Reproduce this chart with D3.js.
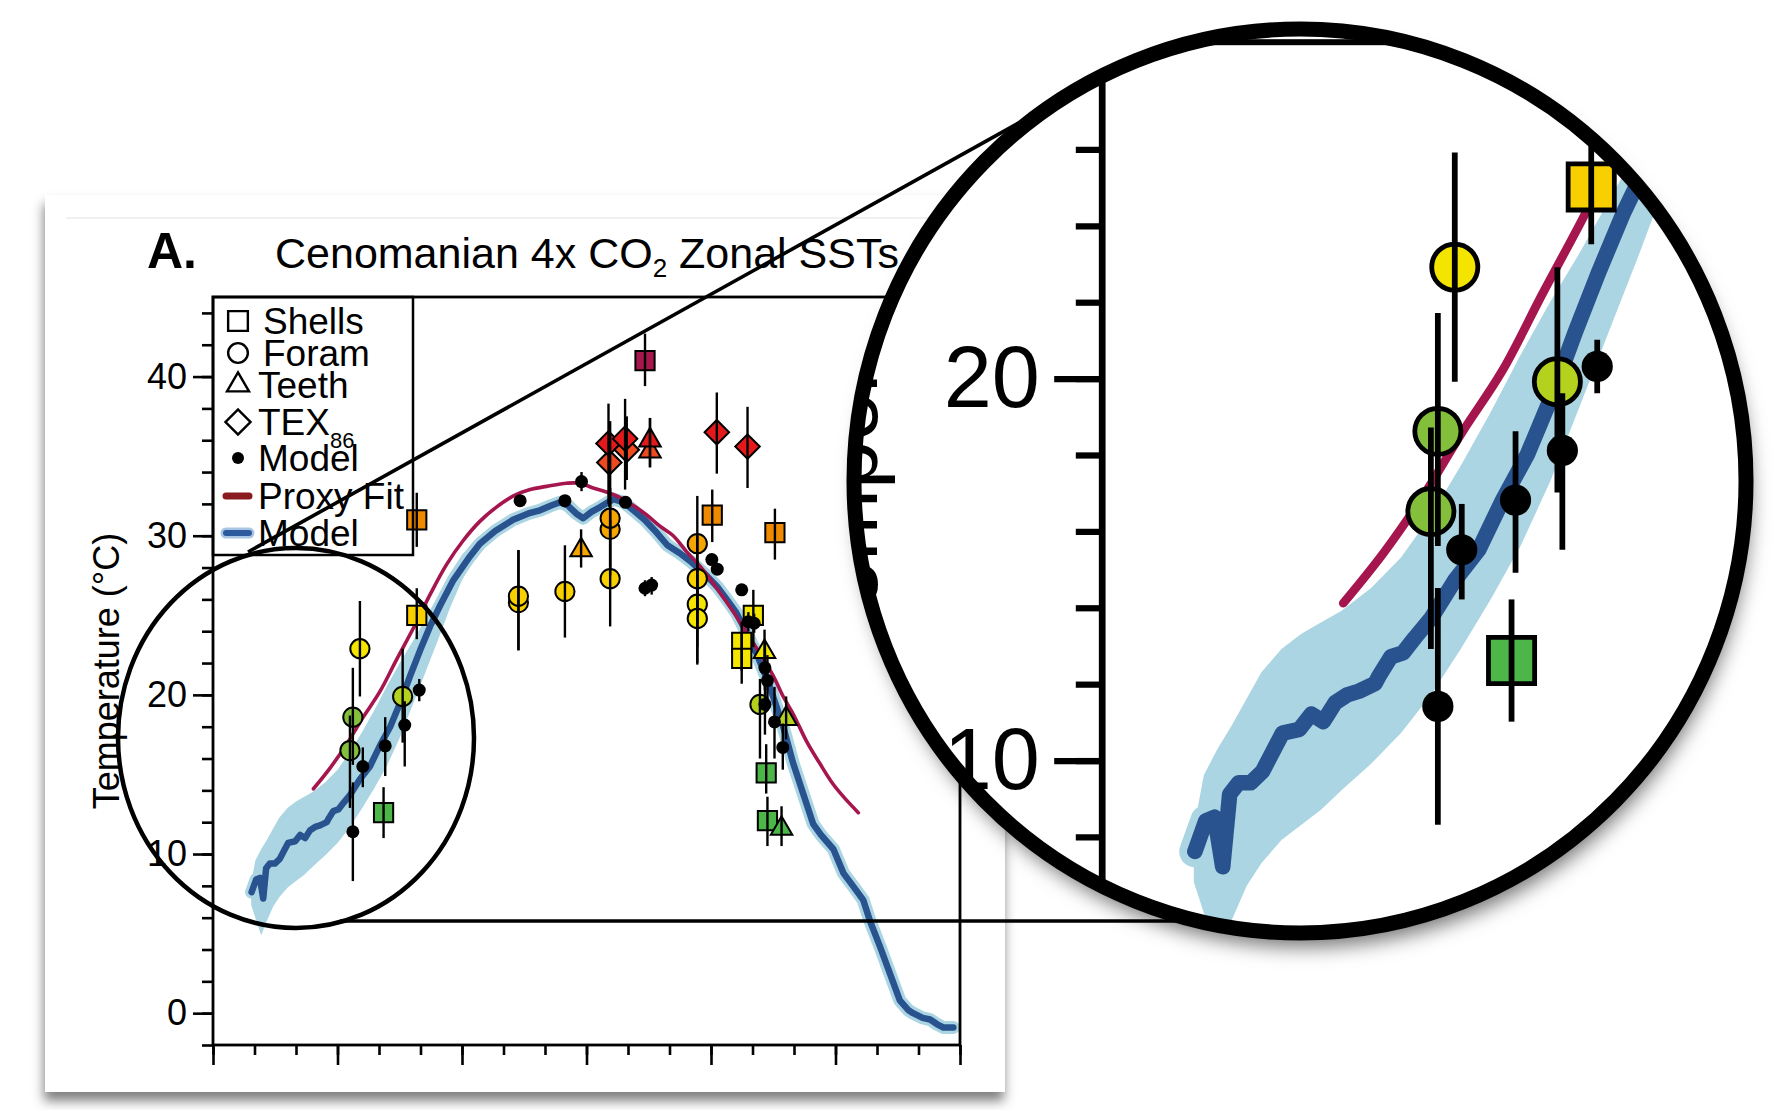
<!DOCTYPE html>
<html>
<head>
<meta charset="utf-8">
<script src="https://cdn.jsdelivr.net/npm/d3@7"></script>
<style>
  body { margin: 0; background: #fff; }
  svg { display: block; font-family: "Liberation Sans", Arial, Helvetica, sans-serif; }
</style>
</head>
<body>
<div class="container"></div>
<script>
const width = 1773;
const height = 1110;

// model zonal mean SST (blue line)
const modelLat = [-80.7, -79.6, -78.7, -77.9, -77.2, -76.3, -75.1, -73.9, -72.7, -71.9,
  -70.2, -69.0, -67.8, -66.6, -65.4, -64.2, -62.6, -62.2, -61.0, -59.8,
  -58.6, -57.0, -54.6, -52.2, -49.8, -47.3, -44.9, -42.5, -40.1, -37.7,
  -35.3, -32.1, -28.1, -25.7, -22.0, -17.7, -14.0, -11.2, -8.5, -6.4,
  -4.5, -2.5, -0.8, 1.2, 3.3, 6.5, 9.0, 11.3, 14.0, 16.9,
  19.5, 22.5, 25.0, 28.9, 31.5, 33.8, 36.0, 37.8, 41.0, 44.2,
  47.4, 49.8, 52.2, 54.6, 56.5, 59.5, 61.9, 64.2, 66.7, 68.3,
  70.7, 73.1, 75.5, 77.5, 78.7, 81.0, 82.8, 84.5, 86.0, 88.4];
const modelSST = [7.6, 8.4, 8.5, 7.2, 9.1, 9.4, 9.4, 9.7, 10.3, 10.7,
  10.8, 11.2, 11.0, 11.5, 11.7, 11.8, 12.0, 12.2, 12.7, 12.8,
  13.2, 13.7, 14.7, 15.5, 16.8, 18.0, 19.5, 21.2, 22.8, 24.3,
  25.6, 27.2, 28.7, 29.5, 30.3, 31.0, 31.4, 31.6, 31.9, 32.1,
  31.9, 31.4, 31.1, 31.5, 31.8, 32.3, 32.1, 31.6, 31.0, 30.2,
  29.4, 28.9, 28.4, 27.5, 26.8, 26.0, 25.2, 24.3, 22.6, 20.5,
  18.0, 15.7, 13.8, 11.9, 11.2, 10.3, 8.8, 8.0, 7.1, 5.8,
  4.2, 2.5, 0.8, 0.2, 0.0, -0.3, -0.4, -0.7, -0.9, -0.9];

// model spread (light blue band, wide in the south)
const bandLat = [-80.8, -79.8, -78.4, -77.0, -75.5, -74, -72, -70, -68, -66, -63, -60,
  -57, -54, -51, -48, -45, -42, -39, -36, -33, -30, -27];
const bandLo = [6.8, 6.0, 4.9, 5.8, 6.7, 7.3, 7.9, 8.3, 8.7, 9.2, 9.9, 10.7,
  11.7, 12.9, 14.2, 15.6, 17.3, 19.3, 21.3, 23.3, 25.4, 27.2, 28.6];
const bandHi = [8.2, 9.6, 10.3, 10.9, 11.6, 12.3, 12.9, 13.3, 13.6, 13.9, 14.5, 15.3,
  16.4, 17.7, 19.1, 20.6, 22.0, 23.3, 24.7, 26.1, 27.6, 28.8, 29.7];

// proxy fit (red line)
const fitLat = [-65.8, -61.8, -57.8, -53.8, -49.8, -45.8, -41.7, -37.7, -33.7, -29.7,
  -25.7, -21.7, -17.6, -13.6, -9.6, -4.8, -1.6, 1.6, 4.8, 8.1,
  11.3, 14.5, 17.7, 20.9, 24.1, 27.3, 32.2, 35.4, 38.6, 41.8,
  45.0, 47.4, 49.8, 53.0, 56.2, 59.4, 62.6, 65.5];
const fitSST = [14.1, 15.4, 16.9, 18.6, 20.2, 22.2, 24.2, 26.3, 28.2, 29.7,
  30.9, 31.8, 32.5, 32.9, 33.1, 33.3, 33.3, 33.0, 32.75, 32.4,
  31.9, 31.3, 30.6, 30.0, 29.0, 28.1, 26.4, 25.2, 23.9, 22.6,
  21.2, 19.9, 18.8, 17.1, 15.7, 14.4, 13.4, 12.6];

// proxies: s = shells, f = foram, t = teeth, x = TEX86
const proxyType = ['f', 'f', 'f', 's', 'f', 's', 's', 'f', 'f', 'f',
  't', 'f', 'f', 'f', 'x', 'x', 'x', 'x', 't', 't',
  's', 'x', 'x', 's', 's', 'f', 'f', 'f', 'f', 's',
  's', 's', 't', 'f', 't', 's', 's', 't'];
const proxyLat = [-54.6, -56.3, -57.0, -48.9, -44.3, -40.9, -40.9, -16.4, -16.4, -5.2,
  -1.3, 5.7, 5.7, 5.7, 5.5, 5.3, 9.7, 9.3, 15.3, 15.3,
  14.1, 31.4, 38.8, 30.3, 45.4, 26.7, 26.7, 26.7, 26.7, 40.2,
  37.4, 37.4, 42.9, 41.8, 48.1, 43.3, 43.6, 47.0];
const proxySST = [22.9, 18.6, 16.5, 12.6, 19.9, 25.0, 31.0, 25.8, 26.2, 26.5,
  29.1, 27.3, 30.4, 31.1, 34.6, 35.8, 35.4, 36.1, 35.3, 36.0,
  41.0, 36.5, 35.6, 31.3, 30.2, 29.5, 27.3, 25.7, 24.8, 25.0,
  23.3, 22.3, 22.7, 19.4, 18.5, 15.1, 12.1, 11.6];
const proxyLo = [19.9, 15.6, 12.9, 11.0, 17.0, 23.5, 29.3, 22.8, 22.8, 23.6,
  28.0, 24.3, 27.5, 28.0, 31.8, 32.0, 33.5, 32.9, 34.3, 34.3,
  39.4, 33.9, 33.0, 29.6, 28.5, 21.9, 24.5, 23.0, 22.0, 23.0,
  21.5, 20.7, 21.4, 16.0, 17.2, 13.8, 10.5, 10.5];
const proxyHi = [25.9, 21.7, 18.7, 14.2, 22.9, 26.7, 32.7, 29.1, 29.1, 29.4,
  30.4, 31.0, 33.0, 37.2, 37.0, 38.3, 37.5, 38.6, 37.4, 37.4,
  42.7, 39.0, 38.1, 32.9, 31.7, 32.5, 30.0, 28.4, 27.5, 26.6,
  24.6, 23.9, 24.1, 21.0, 19.9, 16.9, 13.6, 13.0];
const proxyGroup = ['yellow', 'green', 'green', 'dkgreen', 'lime', 'gold', 'orange', 'gold', 'gold', 'gold',
  'amber', 'gold', 'amber', 'amber', 'redorange', 'red', 'redorange', 'red', 'redorange', 'red',
  'crimson', 'red', 'red', 'orange', 'orange', 'amber', 'gold', 'yellow', 'yellow', 'yellow',
  'yellow', 'yellow', 'yellow', 'lime', 'lime', 'dkgreen', 'dkgreen', 'dkgreen'];

// model values at proxy sites (black dots)
const dotLat = [-56.3, -53.9, -48.5, -43.8, -40.3, -16.0, -5.2, -1.2, 9.4, 14.1,
  15.7, 30.2, 31.5, 37.4, 39.0, 40.4, 43.0, 43.6, 43.0, 45.3, 47.3];
const dotSST = [11.4, 15.5, 16.8, 18.1, 20.3, 32.2, 32.2, 33.4, 32.1, 26.7,
  26.9, 28.5, 27.9, 26.6, 24.6, 24.5, 21.7, 20.9, 19.4, 18.3, 16.7];
const dotLo = [8.3, 14.2, 14.9, 15.5, 19.6, 32.2, 32.2, 32.8, 32.1, 26.2,
  26.3, 28.5, 27.9, 26.6, 24.0, 23.9, 20.3, 19.0, 17.5, 16.0, 15.3];
const dotHi = [14.5, 16.7, 18.6, 19.6, 21.0, 32.2, 32.2, 34.0, 32.1, 27.2,
  27.4, 28.5, 27.9, 26.6, 25.2, 25.1, 23.3, 22.5, 20.8, 20.5, 18.2];

const yMajor = [0, 10, 20, 30, 40];
const legendNames = ['Shells', 'Foram', 'Teeth', 'TEX', 'Model', 'Proxy Fit', 'Model'];

// colours of the proxy groups
const groupColor = d3.scaleOrdinal()
  .domain(['yellow', 'gold', 'amber', 'orange', 'redorange', 'red', 'crimson', 'lime', 'green', 'dkgreen'])
  .range(['#f4e500', '#f8d000', '#f5a400', '#ef8a00', '#ee4a1f', '#e3191c', '#a5174d', '#b3d11d', '#84bf3b', '#4cb748']);

const bandColor = '#abd5e2';
const blue = '#29538f';
const crimson = '#a6164e';

const x = d3.scaleLinear().domain([-90, 90]).range([213, 960]);
const y = d3.scaleLinear().domain([-2, 45]).range([1045, 297]);

const shapeOf = { s: d3.symbolSquare, f: d3.symbolCircle, t: d3.symbolTriangle, x: d3.symbolSquare };
const sizeOf = { s: 370, f: 290, t: 200, x: 300 };

const svg = d3.select('.container')
  .append('svg')
  .attr('width', width)
  .attr('height', height);

const defs = svg.append('defs');

const cardShadow = defs.append('filter')
  .attr('id', 'cardShadow')
  .attr('x', '-5%').attr('y', '-5%')
  .attr('width', '110%').attr('height', '115%');
cardShadow.append('feDropShadow')
  .attr('dx', -1).attr('dy', 9)
  .attr('stdDeviation', 6)
  .attr('flood-color', '#000')
  .attr('flood-opacity', 0.5);

const lensShadow = defs.append('filter')
  .attr('id', 'lensShadow')
  .attr('x', '-20%').attr('y', '-20%')
  .attr('width', '140%').attr('height', '140%');
lensShadow.append('feDropShadow')
  .attr('dx', 4).attr('dy', 14)
  .attr('stdDeviation', 10)
  .attr('flood-color', '#000')
  .attr('flood-opacity', 0.55);

// lupa
const lens = { cx: 1300, cy: 481, rx: 446, ry: 452 };
const zoomK = 2.4;
const zoomSrc = [295, 737];

defs.append('clipPath')
  .attr('id', 'lensClip')
  .append('ellipse')
  .attr('cx', lens.cx).attr('cy', lens.cy)
  .attr('rx', lens.rx - 4).attr('ry', lens.ry - 4);

// cartão branco
svg.append('rect')
  .attr('x', 45).attr('y', 195)
  .attr('width', 960).attr('height', 897)
  .attr('fill', '#fff')
  .attr('filter', 'url(#cardShadow)');

svg.append('line')
  .attr('x1', 66).attr('x2', 1000)
  .attr('y1', 218).attr('y2', 218)
  .attr('stroke', '#ececec')
  .attr('stroke-width', 1.5);

// título
svg.append('text')
  .attr('x', 147).attr('y', 268)
  .attr('font-size', 50)
  .attr('font-weight', 'bold')
  .text('A.');

const title = svg.append('text')
  .attr('x', 275).attr('y', 268)
  .attr('font-size', 43);
title.append('tspan').text('Cenomanian 4x CO');
title.append('tspan').attr('font-size', 26).attr('dy', 9).text('2');
title.append('tspan').attr('dy', -9).text(' Zonal SSTs');

function drawChart(layer) {
  // banda do modelo
  layer.append('path')
    .datum(bandLat.map((d, i) => [d, bandLo[i], bandHi[i]]))
    .attr('d', d3.area().x(d => x(d[0])).y0(d => y(d[1])).y1(d => y(d[2])))
    .attr('fill', bandColor);

  const modelPts = modelLat.map((d, i) => [d, modelSST[i]]);
  const modelLine = d3.line().x(d => x(d[0])).y(d => y(d[1]));

  layer.append('path')
    .datum(modelPts)
    .attr('d', modelLine)
    .attr('fill', 'none')
    .attr('stroke', bandColor)
    .attr('stroke-width', 13)
    .attr('stroke-linejoin', 'round')
    .attr('stroke-linecap', 'round');

  layer.append('path')
    .datum(modelPts)
    .attr('d', modelLine)
    .attr('fill', 'none')
    .attr('stroke', blue)
    .attr('stroke-width', 6.5)
    .attr('stroke-linejoin', 'round')
    .attr('stroke-linecap', 'round');

  // proxy fit
  layer.append('path')
    .datum(fitLat.map((d, i) => [d, fitSST[i]]))
    .attr('d', d3.line().curve(d3.curveCatmullRom).x(d => x(d[0])).y(d => y(d[1])))
    .attr('fill', 'none')
    .attr('stroke', crimson)
    .attr('stroke-width', 3.6)
    .attr('stroke-linecap', 'round');

  // proxies
  const proxies = proxyLat.map((d, i) => ({
    lat: d, t: proxySST[i], lo: proxyLo[i], hi: proxyHi[i], type: proxyType[i], group: proxyGroup[i]
  }));

  layer.append('g')
    .selectAll('path')
    .data(proxies)
    .join('path')
    .attr('d', d => d3.symbol(shapeOf[d.type], sizeOf[d.type])())
    .attr('transform', d => `translate(${x(d.lat)},${y(d.t)})` + (d.type === 'x' ? ' rotate(45)' : ''))
    .attr('fill', d => groupColor(d.group))
    .attr('stroke', '#000')
    .attr('stroke-width', 2);

  layer.append('g')
    .selectAll('line')
    .data(proxies)
    .join('line')
    .attr('x1', d => x(d.lat)).attr('x2', d => x(d.lat))
    .attr('y1', d => y(d.lo)).attr('y2', d => y(d.hi))
    .attr('stroke', '#000')
    .attr('stroke-width', 2.4);

  // model dots
  const dots = dotLat.map((d, i) => ({ lat: d, t: dotSST[i], lo: dotLo[i], hi: dotHi[i] }));
  const dotG = layer.append('g');
  dotG.selectAll('line')
    .data(dots)
    .join('line')
    .attr('x1', d => x(d.lat)).attr('x2', d => x(d.lat))
    .attr('y1', d => y(d.lo)).attr('y2', d => y(d.hi))
    .attr('stroke', '#000')
    .attr('stroke-width', 2.4);
  dotG.selectAll('circle')
    .data(dots)
    .join('circle')
    .attr('cx', d => x(d.lat))
    .attr('cy', d => y(d.t))
    .attr('r', 6.5)
    .attr('fill', '#000');

  // eixos
  const styleAxis = sel => {
    sel.select('.domain').remove();
    sel.selectAll('line').attr('stroke-width', 2.6);
    sel.attr('font-family', null).attr('font-size', 36);
    sel.selectAll('text').attr('fill', '#000');
  };

  layer.append('g')
    .attr('transform', `translate(${x(-90)},0)`)
    .call(d3.axisLeft(y).tickValues(d3.range(-2, 45, 2)).tickSize(11).tickFormat(''))
    .call(styleAxis);

  layer.append('g')
    .attr('transform', `translate(${x(-90)},0)`)
    .call(d3.axisLeft(y).tickValues(yMajor).tickSize(20).tickPadding(6))
    .call(styleAxis);

  layer.append('g')
    .attr('transform', `translate(0,${y(-2)})`)
    .call(d3.axisBottom(x).tickValues(d3.range(-90, 91, 10)).tickSize(10).tickFormat(''))
    .call(styleAxis);

  layer.append('g')
    .attr('transform', `translate(0,${y(-2)})`)
    .call(d3.axisBottom(x).tickValues(d3.range(-90, 91, 30)).tickSize(20).tickFormat(''))
    .call(styleAxis);

  // caixa
  layer.append('rect')
    .attr('x', x(-90)).attr('y', y(45))
    .attr('width', x(90) - x(-90))
    .attr('height', y(-2) - y(45))
    .attr('fill', 'none')
    .attr('stroke', '#000')
    .attr('stroke-width', 2.8);

  layer.append('text')
    .attr('transform', `translate(119,${(y(-2) + y(45)) / 2}) rotate(-90)`)
    .attr('text-anchor', 'middle')
    .attr('font-size', 36)
    .text('Temperature (°C)');

  // legenda
  const leg = layer.append('g');
  leg.append('rect')
    .attr('x', x(-90)).attr('y', y(45))
    .attr('width', 200).attr('height', 258)
    .attr('fill', 'none')
    .attr('stroke', '#000')
    .attr('stroke-width', 2.5);

  const rowY = [321, 353, 385, 422, 458, 496, 533];
  const textX = [263, 263, 258, 258, 258, 258, 258];
  const symTypes = ['s', 'f', 't', 'x'];

  symTypes.forEach((t, i) => {
    leg.append('path')
      .attr('d', d3.symbol(shapeOf[t], sizeOf[t] * 1.05)())
      .attr('transform', `translate(238,${rowY[i]})` + (t === 'x' ? ' rotate(45)' : ''))
      .attr('fill', '#fff')
      .attr('stroke', '#000')
      .attr('stroke-width', 2.4);
  });

  leg.append('circle')
    .attr('cx', 238).attr('cy', rowY[4])
    .attr('r', 6)
    .attr('fill', '#000');

  leg.append('line')
    .attr('x1', 226).attr('x2', 249)
    .attr('y1', rowY[5]).attr('y2', rowY[5])
    .attr('stroke', '#8b1a1e')
    .attr('stroke-width', 7)
    .attr('stroke-linecap', 'round');

  leg.append('line')
    .attr('x1', 226).attr('x2', 249)
    .attr('y1', rowY[6]).attr('y2', rowY[6])
    .attr('stroke', '#a9c5e4')
    .attr('stroke-width', 11)
    .attr('stroke-linecap', 'round');

  leg.append('line')
    .attr('x1', 226).attr('x2', 249)
    .attr('y1', rowY[6]).attr('y2', rowY[6])
    .attr('stroke', '#2c5a9c')
    .attr('stroke-width', 6)
    .attr('stroke-linecap', 'round');

  legendNames.forEach((name, i) => {
    const t = leg.append('text')
      .attr('x', textX[i])
      .attr('y', rowY[i] + 13)
      .attr('font-size', 37)
      .text(name);
    if (name === 'TEX') {
      t.append('tspan').attr('font-size', 22).attr('dy', 13).text('86');
    }
  });
}

// gráfico principal
drawChart(svg.append('g').attr('class', 'main'));

// elipse pequena e linhas de ligação
svg.append('ellipse')
  .attr('cx', 296).attr('cy', 738)
  .attr('rx', 178).attr('ry', 190)
  .attr('fill', 'none')
  .attr('stroke', '#000')
  .attr('stroke-width', 4.5);

svg.append('line')
  .attr('x1', 248).attr('y1', 552)
  .attr('x2', 1060).attr('y2', 100)
  .attr('stroke', '#000')
  .attr('stroke-width', 3.6);

svg.append('line')
  .attr('x1', 340).attr('y1', 921)
  .attr('x2', 1250).attr('y2', 921)
  .attr('stroke', '#000')
  .attr('stroke-width', 3.6);

// lupa: fundo branco com sombra, conteúdo ampliado, aro preto
svg.append('ellipse')
  .attr('cx', lens.cx).attr('cy', lens.cy)
  .attr('rx', lens.rx).attr('ry', lens.ry)
  .attr('fill', '#fff')
  .attr('filter', 'url(#lensShadow)');

const zoomed = svg.append('g')
  .attr('clip-path', 'url(#lensClip)')
  .append('g')
  .attr('class', 'zoomed')
  .attr('transform', `translate(${lens.cx - 1 - zoomK * zoomSrc[0]},${lens.cy - 2 - zoomK * zoomSrc[1]}) scale(${zoomK})`);
drawChart(zoomed);

// textos ampliados que ficam fora da lupa não aparecem: tirar
const insideLens = (px, py) =>
  ((px - lens.cx) / lens.rx) ** 2 + ((py - lens.cy) / lens.ry) ** 2 < 1;
zoomed.selectAll('text').each(function () {
  const r = this.getBoundingClientRect();
  let seen = false;
  for (let i = 0; i <= 6; i++) {
    for (let j = 0; j <= 6; j++) {
      if (insideLens(r.left + r.width * i / 6, r.top + r.height * j / 6)) seen = true;
    }
  }
  if (!seen) d3.select(this).remove();
});

svg.append('ellipse')
  .attr('cx', lens.cx).attr('cy', lens.cy)
  .attr('rx', lens.rx).attr('ry', lens.ry)
  .attr('fill', 'none')
  .attr('stroke', '#000')
  .attr('stroke-width', 15);
</script>
</body>
</html>
